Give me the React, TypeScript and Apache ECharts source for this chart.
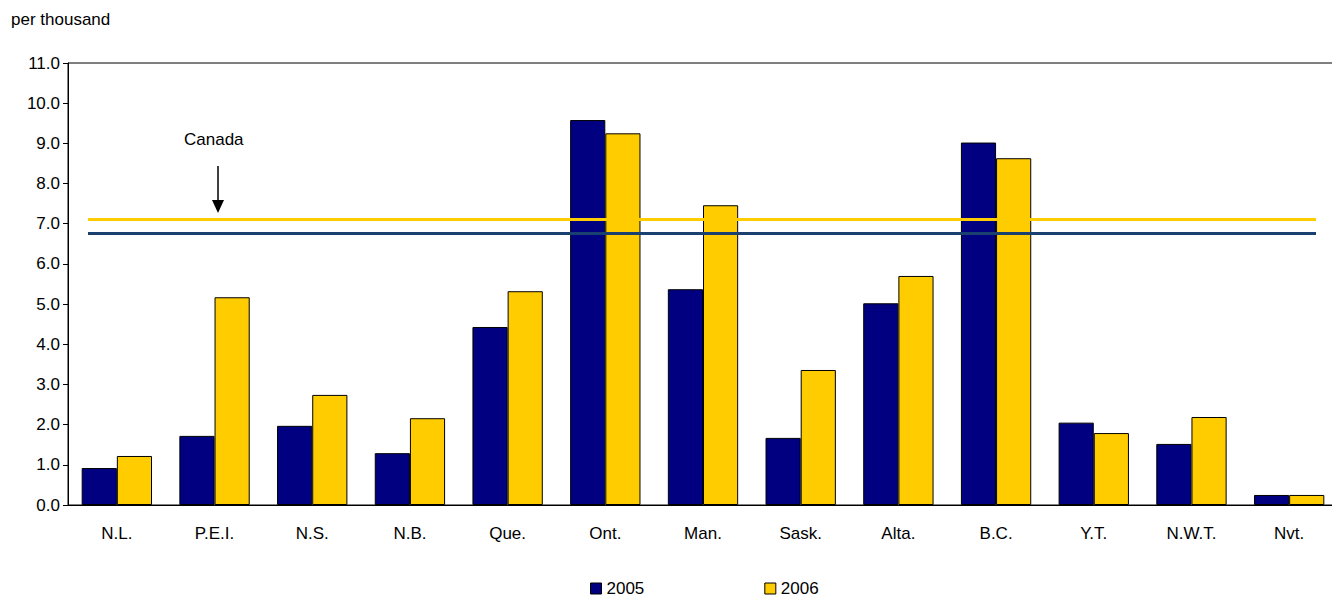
import * as echarts from "echarts";
import { useEffect, useRef } from "react";

const provinces = ["N.L.", "P.E.I.", "N.S.", "N.B.", "Que.", "Ont.", "Man.", "Sask.", "Alta.", "B.C.", "Y.T.", "N.W.T.", "Nvt."];
const values2005 = [0.92, 1.72, 1.97, 1.29, 4.43, 9.58, 5.37, 1.67, 5.02, 9.02, 2.05, 1.52, 0.25];
const values2006 = [1.22, 5.17, 2.74, 2.16, 5.32, 9.25, 7.46, 3.36, 5.7, 8.63, 1.79, 2.19, 0.25];
const canada2005 = 6.77;
const canada2006 = 7.12;

const font = "Liberation Sans, Arial, sans-serif";

const App = () => {
	const chartRef = useRef<HTMLDivElement>(null);

	useEffect(() => {
		const chart = echarts.init(chartRef.current!, null, { renderer: "svg" });
		chart.setOption({
			animation: false,
			textStyle: { fontFamily: font, color: "#000" },
			grid: { left: 68, right: 2, top: 63, bottom: 99, show: true, borderColor: "#000", borderWidth: 1 },
			legend: {
				bottom: 2,
				left: 585,
				itemGap: 120,
				itemWidth: 11,
				itemHeight: 11,
				textStyle: { fontSize: 17, fontFamily: font, color: "#000" },
				data: [
					{ name: "2005", icon: "rect", itemStyle: { borderColor: "#000", borderWidth: 1 } },
					{ name: "2006", icon: "rect", itemStyle: { borderColor: "#000", borderWidth: 1 } }
				]
			},
			xAxis: {
				type: "category",
				data: provinces,
				axisLine: { lineStyle: { color: "#000" } },
				axisTick: { show: false },
				axisLabel: { fontSize: 17, color: "#000", margin: 20, fontFamily: font }
			},
			yAxis: {
				type: "value",
				min: 0,
				max: 11,
				interval: 1,
				axisLine: { show: true, lineStyle: { color: "#000" } },
				axisTick: { show: true, inside: false, length: 5, lineStyle: { color: "#000" } },
				splitLine: { show: false },
				axisLabel: { fontSize: 17, color: "#000", formatter: (v: number) => v.toFixed(1), fontFamily: font }
			},
			graphic: [
				{ type: "text", x: 184, y: 131, style: { text: "Canada", fontSize: 17, fontFamily: font, fill: "#000" } },
				{ type: "line", shape: { x1: 218, y1: 166, x2: 218, y2: 202 }, style: { stroke: "#000", lineWidth: 1.5 } },
				{ type: "polygon", shape: { points: [[212, 200], [224, 200], [218, 213]] }, style: { fill: "#000" } }
			],
			series: [
				{
					name: "2005",
					type: "bar",
					data: values2005,
					barGap: "0%",
					barCategoryGap: "28%",
					itemStyle: { color: "#000080", borderColor: "#000", borderWidth: 1 },
					markLine: {
						symbol: "none",
						silent: true,
						label: { show: false },
						lineStyle: { color: "#1a4070", width: 3, type: "solid" },
						data: [[{ x: 88, yAxis: canada2005 }, { x: 1316, yAxis: canada2005 }]]
					}
				},
				{
					name: "2006",
					type: "bar",
					data: values2006,
					itemStyle: { color: "#FFCC00", borderColor: "#000", borderWidth: 1 },
					markLine: {
						symbol: "none",
						silent: true,
						label: { show: false },
						lineStyle: { color: "#FFCC00", width: 3, type: "solid" },
						data: [[{ x: 88, yAxis: canada2006 }, { x: 1316, yAxis: canada2006 }]]
					}
				}
			]
		});
		return () => {
			chart.dispose();
		};
	}, []);

	return (
		<div style={{ position: "relative", width: 1324, height: 588 }}>
			<div style={{ position: "absolute", left: 3, top: 2, fontFamily: font, fontSize: 17 }}>per thousand</div>
			<div ref={chartRef} style={{ width: 1340, height: 604, position: "absolute", left: -8, top: -8 }} />
		</div>
	);
};

export default App;
